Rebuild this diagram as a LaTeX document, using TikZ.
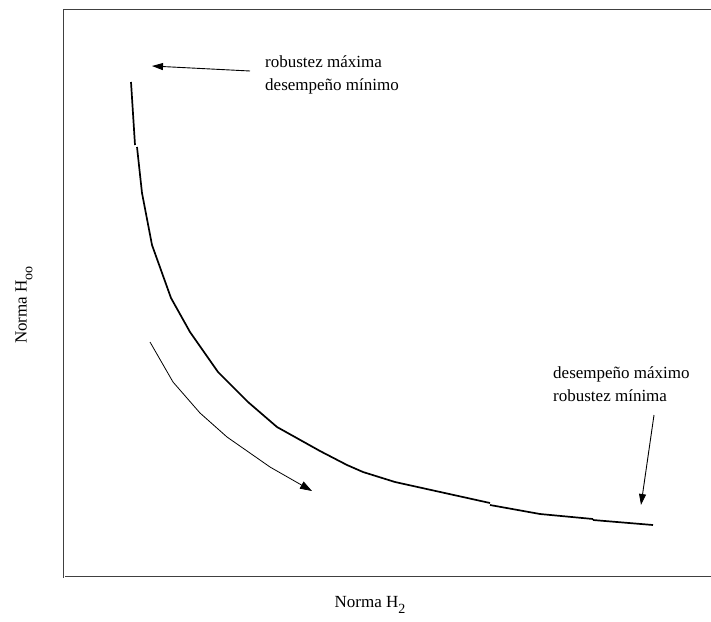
\documentclass[tikz,border=0pt]{standalone}
\usepackage{fontspec}
\setmainfont{Liberation Serif}
\usetikzlibrary{arrows.meta}
\begin{document}
\begin{tikzpicture}[x=1pt,y=-1pt,
  frameline/.style={draw=black!75,line width=0.85pt},
  front/.style={line width=1.7pt,line join=round},
  pointer/.style={line width=0.9pt,-{Triangle[length=11pt,width=7pt]}},
  note/.style={font=\fontsize{17}{23}\selectfont,align=left,inner sep=0pt},
  axislabel/.style={font=\fontsize{17}{23}\selectfont,inner sep=0pt}]
\useasboundingbox (0,0) rectangle (711,621);
% plot frame
\draw[frameline] (711,9) -- (63,9) -- (63,578);
\draw[frameline] (65,576) -- (711,576);
% axis labels
\node[axislabel] (xlab) at (370,605) {Norma H\raisebox{-0.75ex}{\fontsize{14}{14}\selectfont 2}};
\node[axislabel,rotate=90] (ylab) at (24,305) {Norma H\raisebox{-0.75ex}{\fontsize{14}{14}\selectfont oo}};
% trade-off curve
\draw[front] (131,82) -- (135,145);
\draw[front] (137,147) -- (142,193) -- (152,245) -- (171,298) -- (190,332)
  -- (218,372) -- (248,402) -- (277,427) -- (320,451) -- (347,465)
  -- (363,472) -- (395,482) -- (490,503);
\draw[front] (490,505) -- (540,514) -- (593,519);
\draw[front] (593,520) -- (653,525);
% direction of travel along the curve
\coordinate (d0) at (150,342);
\coordinate (d1) at (312,491);
\draw[line width=0.8pt,-{Triangle[length=12pt,width=8pt]}] (d0) -- (173,382) -- (200,413)
  -- (227,437) -- (270,467) -- (d1);
% annotations
\node[note,anchor=west] (top) at (265,75) {robustez máxima\\desempeño mínimo};
\node[note,anchor=west] (right) at (553,384) {desempeño máximo\\robustez mínima};
\coordinate (topend) at (152,66);
\coordinate (toptail) at (250,71);
\coordinate (rightend) at (641,505);
\coordinate (righttail) at (654,415);
\draw[pointer] (toptail) -- (topend);
\draw[pointer] (righttail) -- (rightend);
\end{tikzpicture}
\end{document}
